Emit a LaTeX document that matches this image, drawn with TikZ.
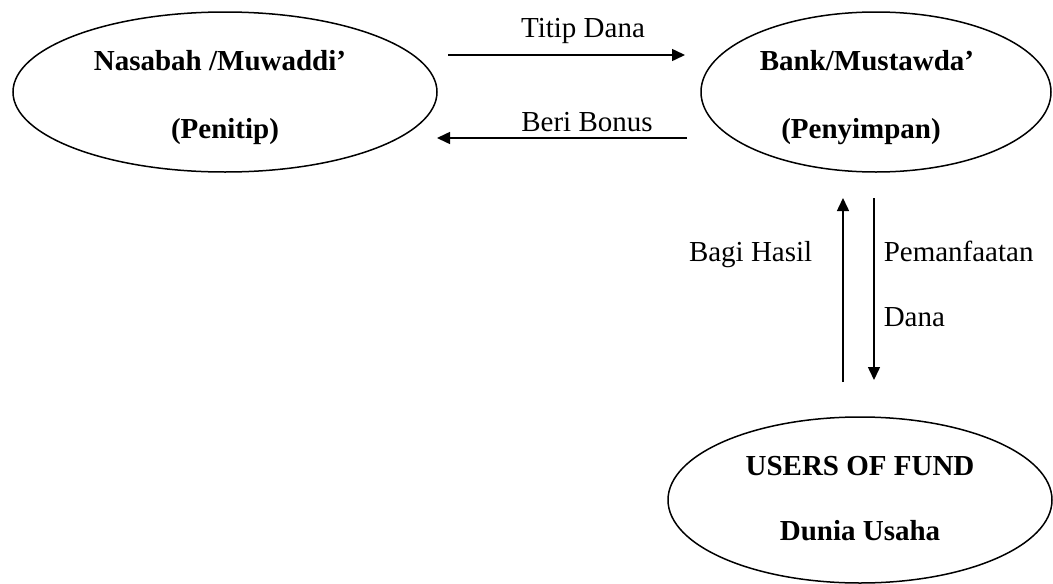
\documentclass[tikz,border=0pt]{standalone}
\usepackage{fontspec}
\setmainfont{Liberation Serif}
\usetikzlibrary{positioning,calc,arrows.meta,shapes.geometric}

\begin{document}
\begin{tikzpicture}[x=1pt, y=-1pt, >={Triangle[length=13pt,width=12pt]}, line width=1.5pt,
  font=\fontsize{29}{35}\selectfont,
  party/.style={draw, ellipse, inner sep=0pt},
  partytext/.style={anchor=base, font=\fontsize{29}{35}\selectfont\bfseries},
  flowtext/.style={inner sep=0pt}]
  \useasboundingbox (0,0) rectangle (1053,584);
  % the three parties
  \node[party, minimum width=424pt, minimum height=160pt] (nasabah) at (225,92) {};
  \node[party, minimum width=350pt, minimum height=160pt] (bank) at (876,92) {};
  \node[party, minimum width=384pt, minimum height=166pt] (users) at (860,500) {};
  \node[partytext] (nasabahA) at ([xshift=-5pt,yshift=22pt]nasabah.center) {Nasabah /Muwaddi’};
  \node[partytext] (nasabahB) at ([yshift=-46pt]nasabah.center) {(Penitip)};
  \node[partytext] (bankA) at ([xshift=-9pt,yshift=22pt]bank.center) {Bank/Mustawda’};
  \node[partytext] (bankB) at ([xshift=-15pt,yshift=-46pt]bank.center) {(Penyimpan)};
  \node[partytext] (usersA) at ([yshift=25pt]users.center) {USERS OF FUND};
  \node[partytext] (usersB) at ([yshift=-40pt]users.center) {Dunia Usaha};
  % arrow ends
  \coordinate (titipL) at (448,55);
  \coordinate (titipR) at (685,55);
  \coordinate (bonusR) at (687,138);
  \coordinate (bonusL) at (437,138);
  \coordinate (hasilB) at (843,382);
  \coordinate (hasilT) at (843,198);
  \coordinate (danaT) at (874,198);
  \coordinate (danaB) at (874,380);
  \draw[->] (titipL) -- (titipR);
  \draw[->] (bonusR) -- (bonusL);
  \draw[->] (hasilB) -- (hasilT);
  \draw[->] (danaT) -- (danaB);
  % flow labels
  \node[flowtext, anchor=base] (titip) at (583,37) {Titip Dana};
  \node[flowtext, anchor=base] (bonus) at (587,131) {Beri Bonus};
  \node[flowtext, anchor=base east] (hasil) at (813,261) {Bagi Hasil};
  \node[flowtext, anchor=base west] (manfaat) at (883,261) {Pemanfaatan};
  \node[flowtext, anchor=base west] (dana) at (883,326) {Dana};
\end{tikzpicture}
\end{document}
